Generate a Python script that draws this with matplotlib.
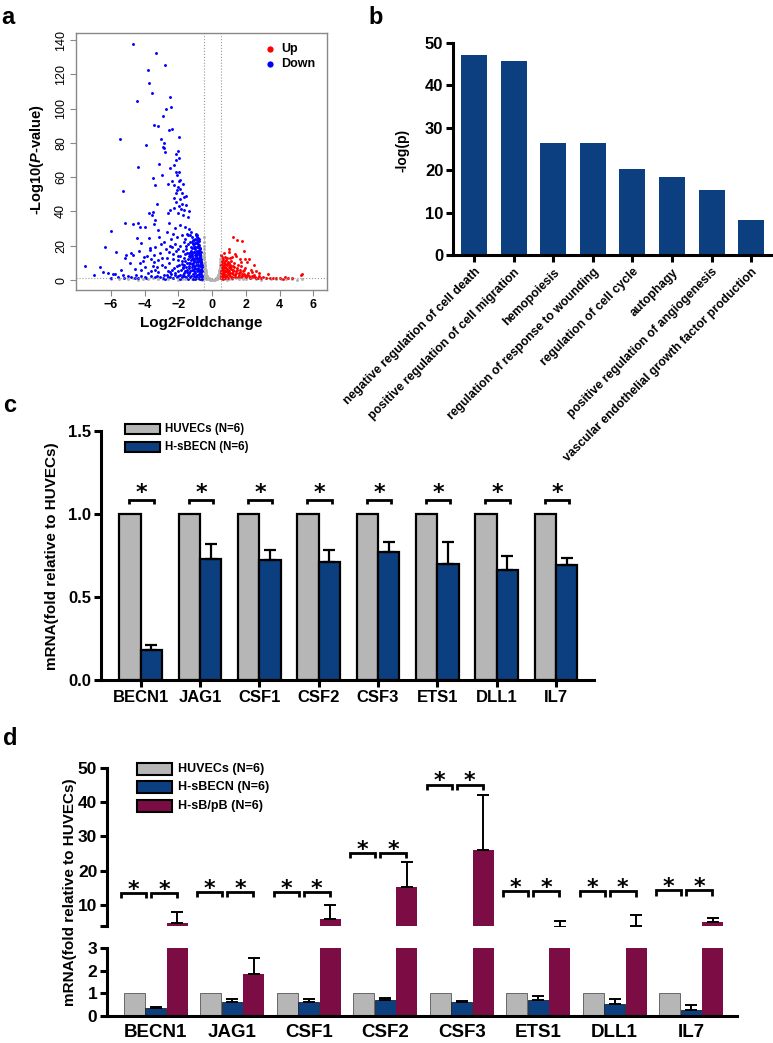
import matplotlib
matplotlib.use('Agg')
import matplotlib.pyplot as plt
from matplotlib.patches import Rectangle
from matplotlib.lines import Line2D
from matplotlib import font_manager as fm
import numpy as np

# ---------------- data ----------------
# panel a: volcano points (log2 fold change, -log10 p)
blue_x = [-4.67,-3.33,-2.82,-3.79,-3.77,-3.55,-4.46,-2.50,-2.44,-2.72,-2.90,-3.47,-3.24,-2.54,-2.37,-5.44,-3.02,-1.97,
          -3.90,-2.86,-2.92,-2.84,-2.78,-2.03,-2.17,-1.99,-2.13,-3.15,-2.29,-4.38,-2.49,-2.15,-1.99,-2.07,-2.96,-3.53,
          -3.41,-5.31,-3.27,-2.62,-2.39,-1.95,-1.88,-2.25,-2.05,-1.76,-2.09,-1.89,-2.13,-1.82,-1.70,-1.54,-1.93,-2.25,
          -2.13,-1.78,-1.54,-1.97,-2.29,-1.85,-1.66,-1.40,-2.05,-1.73,-1.46,-2.49,-2.64,-3.77,-3.53,-3.57,-3.41,-5.15,
          -4.69,-4.40,-4.00,-4.26,-5.98,-3.47,-3.21,-2.59,-2.19,-1.89,-1.60,-1.40,-1.26,-1.46,-1.20,-1.11,-1.34,-1.01,
          -0.91,-1.20,-1.05,-0.87,-1.30,-0.95,-0.81,-6.33,-5.68,-5.13,-4.79,-4.46,-4.22,-3.67,-3.37,-3.18,-2.88,-2.59,
          -2.39,-3.47,-4.07,-3.77,-2.68,-7.51,-6.63,-6.48,-6.18,-5.74,-5.30,-5.15,-4.70,-4.26,-3.67,-3.22,-2.78,-2.34,
          -3.96,-3.37,-2.49,-2.04,-1.75,
          -0.65,-0.70,-0.66,-0.72,-0.68,-0.75,-0.70,-0.78,-0.74,-0.82,-0.88,-0.80,-0.95,-1.00,-0.90,-0.85,-0.90,-0.80,
          -0.95,-1.10,-1.00,-1.05,-1.15,-1.10,-1.20,-1.25,-1.30,-1.20,-1.35,-1.40,-1.45,-1.50,-1.55,-1.60,-1.50,-1.65,
          -1.70,-1.60,-1.75,-1.85,-1.90,-2.00,-2.10,-2.20,-2.30,-2.45,-2.55,-2.70,-2.85,-3.00,-3.10,-3.30,-3.50,-3.60,
          -3.80,-4.00,-4.20,-4.50,-4.80,-5.00,-4.40,-3.90,-3.40,-2.90,-2.60,-2.30,-2.00,-1.80,-1.55,-1.30,-1.15,
          -0.62,-0.64,-0.67,-0.63,-0.69,-0.66,-0.71,-0.73,-0.76,-0.79,-0.84,-0.86,-0.92,-0.98,-0.77,-0.83,-0.87,-0.92,
          -0.96,-1.02,-1.08,-1.12,-1.18,-1.22,-1.28,-1.33,-1.38,-1.42,-1.48,-1.52,-1.58,-1.62,-1.68,-1.72,-1.78,-1.82,
          -1.88,-1.95,-2.02,-2.08,-2.15,-2.22,-2.28,-2.35,-2.42,-2.50,-2.62,-2.75,-2.95,-3.05,-3.25,-3.45,-3.65,-3.85,
          -4.10,-4.35,-4.60,-4.90,-5.40,-5.60,-6.00,-5.90,-7.00,
          -0.61,-0.63,-0.65,-0.68,-0.61,-0.64,-0.69,-0.72,-0.67,-0.75,-0.81,-0.78,-0.85,-0.90,-0.62,-0.66,-0.70,-0.74,
          -0.77,-0.80,-0.83,-0.89,-0.93,-0.72,-0.76,-0.79,-0.82,-0.86,-0.89,-0.93,-0.97,-1.00,-1.04,-1.06,-0.84,-0.88,
          -0.91,-0.94,-0.97,-1.00,-1.03,-1.07,-1.10,-1.14,-0.98,-1.02,-1.05,-1.09,-1.13,-1.16,-1.20,-1.24,-1.10,-1.14,
          -1.18,-1.22,-1.26,-1.31,-1.36,-1.28,-1.32,-1.36,-1.40,-1.44,-1.50,-1.55,-1.60,-1.65,-1.70,-1.75,-1.80,-1.90,
          -2.00,-2.10,-2.20,-2.40,-2.50,-2.70,-3.10,-3.20,-3.60,-4.20,-4.60,-5.20,-2.80,-1.90,-1.45,-1.00,-0.70]
blue_y = [137.6,132.5,125.3,122.6,115.1,109.2,104.2,106.5,101.1,99.7,95.4,90.2,89.6,87.3,88.0,82.4,82.2,83.4,
          78.5,79.7,77.7,76.8,74.6,75.2,73.3,71.1,70.0,67.6,67.0,65.7,65.5,63.1,63.1,61.4,61.2,59.3,
          55.4,52.1,44.3,56.2,57.9,57.9,58.3,55.4,54.4,56.0,52.5,52.9,50.5,50.5,48.6,49.2,47.2,47.6,
          45.7,44.3,43.9,43.1,41.8,41.4,40.8,40.4,38.9,37.9,36.9,40.8,38.9,39.2,39.8,37.7,35.0,33.4,
          32.7,33.0,31.1,30.7,28.6,32.7,29.2,33.4,30.1,32.1,31.1,29.5,28.2,26.2,25.3,23.3,22.3,21.4,
          19.4,18.5,16.5,15.6,14.6,13.6,12.6,19.4,16.5,14.6,15.6,24.3,21.4,18.5,19.4,25.3,22.3,16.5,
          19.4,14.6,13.6,24.3,28.2,8.2,7.8,4.9,3.9,3.3,2.9,12.6,14.6,9.7,17.5,11.7,7.8,15.0,
          7.8,5.8,4.9,11.7,6.8,
          2.0,4.0,6.0,8.0,10.0,12.0,14.0,16.0,18.0,20.0,22.0,24.0,26.0,24.0,17.0,9.0,5.0,3.0,
          1.5,2.5,7.0,11.0,13.0,20.0,22.0,17.0,10.0,6.0,4.0,8.0,12.0,16.0,20.0,24.0,27.0,13.0,
          9.0,5.0,3.0,6.0,14.0,18.0,8.0,4.0,12.0,24.0,10.0,13.0,3.0,9.0,16.0,2.5,8.0,12.0,
          4.0,2.0,6.0,3.0,1.5,2.2,1.2,1.0,1.5,1.2,2.0,1.4,2.5,1.5,1.8,1.6,0.8,
          1.0,3.5,5.0,7.5,9.0,11.0,13.0,15.0,17.0,19.0,21.0,23.0,25.0,27.0,6.0,7.0,11.0,13.0,
          15.0,18.0,5.0,9.0,15.0,12.0,19.0,26.0,14.0,21.0,6.0,10.0,18.0,15.0,22.0,17.0,11.0,26.0,
          20.0,9.0,14.0,25.0,17.0,21.0,7.0,27.0,3.5,20.0,5.5,18.0,13.0,21.0,7.5,10.5,5.0,14.0,
          11.0,17.0,6.5,10.0,6.0,1.8,1.2,3.6,2.8,
          0.5,2.5,4.5,6.5,8.5,10.5,12.5,14.5,16.5,18.5,20.5,22.5,24.5,26.5,5.5,9.5,11.5,13.5,
          15.5,17.5,19.5,21.5,23.5,1.5,3.5,5.5,8.5,10.5,12.5,14.5,16.5,19.5,21.5,23.5,1.2,3.2,
          6.5,8.5,10.5,12.5,14.5,16.5,18.5,21.0,2.2,4.2,6.2,8.2,10.2,12.2,14.2,16.2,1.2,3.4,
          7.4,9.4,11.4,13.4,15.5,2.4,5.4,7.2,9.8,3.2,4.6,7.8,11.2,2.4,4.2,7.5,9.5,2.8,
          5.2,1.5,3.0,6.0,1.8,3.2,2.0,4.5,2.6,2.4,1.1,0.9,0.8,0.6,0.7,0.6,0.4]

red_x = [1.26,1.48,1.79,1.87,1.01,0.71,0.51,0.77,0.97,1.07,1.36,5.31,5.25,4.32,
         0.52,0.55,0.53,0.56,0.54,0.58,0.60,0.62,0.65,0.63,0.68,0.66,0.70,0.72,0.75,0.73,0.78,0.80,
         0.82,0.85,0.88,0.90,0.93,0.87,0.95,0.98,1.02,1.05,1.08,1.12,1.15,1.18,1.22,1.25,1.30,1.35,
         1.40,1.45,1.50,1.55,1.60,1.65,1.70,1.75,1.80,1.90,1.95,2.00,2.10,2.20,2.30,2.40,2.50,2.60,
         2.75,2.90,3.00,3.20,3.40,3.60,3.80,4.00,4.20,4.50,4.70,1.62,1.42,1.18,2.05,2.20,1.95,1.72,
         2.45,2.60,2.35,3.30,2.80,0.60,
         0.51,0.53,0.55,0.57,0.59,0.61,0.64,0.67,0.69,0.71,0.74,0.76,0.79,0.81,0.84,0.86,0.89,0.92,
         0.94,0.97,1.00,1.03,1.06,1.10,1.14,1.17,1.21,1.26,1.31,1.37,1.43,1.49,1.56,1.63,1.70,1.78,
         1.86,1.96,2.08,2.22,2.36,2.55,2.70]
red_y = [25.3,23.3,22.9,17.1,17.9,15.9,14.6,13.6,16.5,12.6,15.1,3.3,3.0,1.6,
         1.0,3.0,5.0,7.0,9.0,11.0,2.0,4.0,6.0,8.0,10.0,12.0,1.5,3.5,5.5,7.5,9.5,11.5,
         2.5,4.5,6.5,8.5,10.5,13.0,1.2,3.0,5.0,7.0,9.0,11.0,2.0,4.0,6.0,8.0,10.0,3.0,
         5.0,7.0,9.0,1.5,4.0,6.0,8.0,2.5,5.0,3.5,7.0,1.8,4.0,2.5,6.0,1.5,3.0,1.2,
         2.2,1.0,1.6,1.3,0.9,1.4,1.0,1.2,0.8,1.1,1.4,12.5,14.0,13.5,10.5,12.0,12.0,10.5,
         9.0,5.0,4.5,3.5,4.0,13.5,
         2.2,4.2,6.2,8.2,10.2,0.8,2.8,4.8,6.8,8.8,10.8,1.2,3.2,5.2,7.2,9.2,1.8,3.8,
         5.8,7.8,9.8,2.3,4.3,6.3,8.3,1.2,3.3,5.3,7.3,1.8,3.8,5.8,2.8,4.8,1.5,3.6,
         5.6,2.2,3.2,1.4,2.4,1.8,1.0]

grey_x = [-0.50,-0.48,-0.47,-0.45,-0.42,-0.40,-0.37,-0.33,-0.30,-0.25,-0.20,-0.15,-0.10,-0.05,-0.49,-0.46,-0.44,
          -0.41,-0.39,-0.36,-0.34,-0.31,-0.28,-0.22,-0.18,-0.45,-0.48,-0.43,-0.47,-0.40,-0.35,-0.30,-0.49,-0.50,
          -0.46,-0.50,-0.49,-0.58,-0.62,-0.68,-0.72,-0.60,-0.66,
          0.48,0.46,0.44,0.41,0.38,0.35,0.32,0.28,0.24,0.20,0.15,0.10,0.05,0.47,0.45,0.42,0.39,0.36,
          0.33,0.30,0.45,0.48,0.43,0.38,0.49,0.50,
          -6.0,-5.5,-5.0,-4.7,-4.4,-4.1,-3.8,-3.5,-3.2,-2.9,-2.6,-2.3,-2.0,-1.8,-1.6,-1.4,-1.2,-1.0,-0.9,
          -0.8,-0.7,-0.6,0.6,0.7,0.8,0.9,1.0,1.2,1.4,1.6,1.8,2.0,2.3,2.6,2.9,3.2,3.5,3.8,4.1,4.4,4.7,5.0,5.3,
          -0.50,-0.49,-0.48,-0.47,-0.45,-0.44,-0.43,-0.42,-0.41,-0.39,-0.38,-0.37,-0.36,-0.32,-0.27,-0.24,-0.12,
          -0.50,0.50,0.49,0.48,0.47,0.46,0.44,0.42,0.41,0.40,0.37,0.34,0.31,0.26,0.18,0.49]
grey_y = [20.0,16.0,12.0,9.0,7.0,5.0,3.5,2.5,1.8,1.2,0.8,0.5,0.3,0.1,18.0,14.0,10.5,
          8.0,6.0,4.5,3.0,2.2,1.5,1.0,0.6,4.0,6.0,3.0,2.0,1.5,1.0,0.7,10.0,13.0,
          7.5,25.0,22.0,10.0,6.0,3.0,8.0,14.0,1.5,
          12.0,9.0,7.0,5.0,3.8,2.8,2.0,1.4,1.0,0.7,0.45,0.25,0.1,10.5,8.0,6.0,4.5,3.2,
          2.4,1.7,3.0,4.5,2.0,1.2,7.0,14.0,
          0.3,0.6,0.4,0.9,0.2,0.7,0.5,1.0,0.3,0.8,0.5,1.1,0.2,0.7,0.4,1.0,0.6,0.3,0.9,
          0.5,1.1,0.2,0.4,1.0,0.6,0.2,0.8,0.5,1.1,0.3,0.7,0.4,1.0,0.6,0.2,0.9,0.5,0.3,0.8,0.4,0.6,0.2,0.5,
          8.0,5.0,3.0,1.0,1.8,5.5,8.5,4.0,2.5,1.2,3.2,2.0,0.8,1.2,0.5,0.3,0.15,
          16.0,10.0,5.0,2.5,1.0,6.0,4.5,3.0,1.5,2.5,2.0,1.0,0.6,0.4,0.2,8.5]

# panel b: GO terms
go_terms = ["negative regulation of cell death", "positive regulation of cell migration", "hemopoiesis",
            "regulation of response to wounding", "regulation of cell cycle", "autophagy",
            "positive regulation of angiogenesis", "vascular endothelial growth factor production"]
go_logp = [47.1, 45.7, 26.4, 26.4, 20.2, 18.3, 15.4, 8.3]

# panel c
genes = ["BECN1", "JAG1", "CSF1", "CSF2", "CSF3", "ETS1", "DLL1", "IL7"]
c_huvec = [1, 1, 1, 1, 1, 1, 1, 1]
c_sbecn = [0.18, 0.73, 0.72, 0.71, 0.77, 0.70, 0.66, 0.69]
c_sbecn_err = [0.03, 0.09, 0.065, 0.075, 0.06, 0.13, 0.09, 0.045]
c_sig_y = [1.084] * 8

# panel d
d_huvec = [1, 1, 1, 1, 1, 1, 1, 1]
d_sbecn = [0.34, 0.60, 0.62, 0.72, 0.60, 0.70, 0.55, 0.28]
d_sbecn_err = [0.07, 0.13, 0.13, 0.09, 0.05, 0.17, 0.22, 0.22]
d_sbpb = [4.8, 1.85, 5.9, 15.1, 25.9, 3.5, 3.85, 5.1]
d_sbpb_err = [3.0, 0.73, 4.0, 7.3, 16.1, 1.9, 3.05, 1.0]
d_sig_y = [13.4, 13.7, 13.7, 25.1, 45.0, 13.9, 13.9, 14.2]

# ---------------- style ----------------
names = {f.name for f in fm.fontManager.ttflist}
BASE = 'Liberation Sans' if 'Liberation Sans' in names else 'DejaVu Sans'
plt.rcParams['font.family'] = [BASE, 'DejaVu Sans']
plt.rcParams['font.weight'] = 'bold'
plt.rcParams['mathtext.fontset'] = 'custom'
plt.rcParams['mathtext.it'] = BASE + ':italic:bold'
plt.rcParams['mathtext.rm'] = BASE + ':bold'

GREY = '#b6b6b6'
BLUE = '#0b3f80'
PINK = '#7b0d44'

W, H, DPI = 773, 1043, 100
fig = plt.figure(figsize=(W / DPI, H / DPI), dpi=DPI)


def add_ax(l, t, r, b, z=0):
    ax = fig.add_axes([l / W, 1 - b / H, (r - l) / W, (b - t) / H])
    ax.patch.set_alpha(0)
    ax.set_zorder(z)
    return ax


def fx(x):
    return x / W


def fy(y):
    return 1 - y / H


def ftext(x, y, s, **kw):
    fig.text(fx(x), fy(y), s, **kw)


def fbox(l, t, r, b, fc, lw=1.5):
    fig.add_artist(Rectangle((fx(l), fy(b)), (r - l) / W, (b - t) / H, facecolor=fc,
                             edgecolor='black', linewidth=lw, transform=fig.transFigure))


# ---------------- panel a ----------------
axA = add_ax(75.5, 33, 327, 290)
axA.plot(grey_x, grey_y, 'o', ms=2.1, mew=0, color='#b3b3b3')
axA.plot(blue_x, blue_y, 'o', ms=2.1, mew=0, color='#0000ff')
axA.plot(red_x, red_y, 'o', ms=2.1, mew=0, color='#ff0000')
for v in (-0.5, 0.5):
    axA.axvline(v, ls=':', color='#9a9a9a', lw=0.8)
axA.axhline(1.3, ls=':', color='#9a9a9a', lw=0.8)
axA.set_xlim(-8.1, 6.8)
axA.set_ylim(-5.83, 144.1)
for s in axA.spines.values():
    s.set_color('#888888')
    s.set_linewidth(1.0)
axA.set_xticks([-6, -4, -2, 0, 2, 4, 6])
axA.set_yticks(list(range(0, 141, 20)))
axA.tick_params(direction='out', length=4, width=0.8, color='#888888', labelsize=9)
axA.tick_params(axis='x', pad=2.5)
axA.tick_params(axis='y', pad=2)
for lab in axA.get_yticklabels():
    lab.set_rotation(90)
    lab.set_va('center')
    lab.set_fontweight('normal')
ftext(201, 323, 'Log2Foldchange', fontsize=11, fontweight='bold', ha='center', va='center')
ftext(37, 160, r'-Log10($\mathit{P}$-value)', fontsize=10.5, fontweight='bold', rotation=90,
      ha='center', va='center')
for yy, col, lab in ((49, '#ff0000', 'Up'), (64, '#0000ff', 'Down')):
    fig.add_artist(Line2D([fx(270)], [fy(yy)], marker='o', ms=4.5, mew=0, color=col, ls='',
                          transform=fig.transFigure))
    ftext(281, yy, lab, fontsize=9, fontweight='bold', ha='left', va='center')
ftext(1, 24, 'a', fontsize=17, fontweight='bold', ha='left', va='baseline')

# ---------------- panel b ----------------
axB = add_ax(453, 43, 773, 255, z=5)
xb = np.arange(len(go_terms))
axB.bar(xb, go_logp, width=0.66, color=BLUE, edgecolor='none')
axB.set_xlim(-0.53, 7.55)
axB.set_ylim(0, 50)
axB.spines[['top', 'right']].set_visible(False)
for s in ('left', 'bottom'):
    axB.spines[s].set_linewidth(2.2)
axB.set_yticks([0, 10, 20, 30, 40, 50])
axB.set_xticks(xb)
axB.set_xticklabels(go_terms, rotation=45, ha='right', va='top', rotation_mode='anchor',
                    fontsize=8.8, fontweight='bold')
axB.tick_params(direction='out', length=5, width=2.2)
axB.tick_params(axis='y', labelsize=12, pad=2)
axB.tick_params(axis='x', pad=3)
ftext(402, 150, '-log(p)', fontsize=10, fontweight='bold', rotation=90, ha='center', va='center')
ftext(368, 24, 'b', fontsize=17, fontweight='bold', ha='left', va='baseline')

# ---------------- panel c ----------------
axC = add_ax(101, 431, 594, 680)
xc = np.arange(len(genes))
wc = 0.36
axC.bar(xc - wc / 2, c_huvec, wc, color=GREY, edgecolor='black', linewidth=1.6)
axC.bar(xc + wc / 2, c_sbecn, wc, color=BLUE, edgecolor='black', linewidth=1.6,
        yerr=[np.zeros(len(genes)), c_sbecn_err],
        error_kw=dict(ecolor='black', elinewidth=1.6, capsize=4, capthick=1.6))
for i, yy in enumerate(c_sig_y):
    x0, x1 = i - 0.19, i + 0.22
    axC.plot([x0, x0, x1, x1], [yy - 0.025, yy, yy, yy - 0.025], color='black', lw=2.0,
             solid_joinstyle='miter', solid_capstyle='butt')
    axC.text((x0 + x1) / 2, yy + 0.004, '*', family='DejaVu Sans', fontsize=16, fontweight='bold',
             ha='center', va='baseline')
axC.set_xlim(-0.67, 7.64)
axC.set_ylim(0, 1.5)
axC.spines[['top', 'right']].set_visible(False)
for s in ('left', 'bottom'):
    axC.spines[s].set_linewidth(2.2)
axC.set_yticks([0, 0.5, 1.0, 1.5])
axC.set_yticklabels(['0.0', '0.5', '1.0', '1.5'])
axC.set_xticks(xc)
axC.set_xticklabels(genes)
axC.tick_params(direction='out', length=5, width=2.2, labelsize=12)
axC.tick_params(axis='x', pad=2)
axC.tick_params(axis='y', pad=2)
ftext(52, 556, 'mRNA(fold relative to HUVECs)', fontsize=11, fontweight='bold', rotation=90,
      ha='center', va='center')
fbox(125, 424, 160, 434, GREY)
fbox(125, 442, 160, 452, BLUE)
ftext(165, 429, 'HUVECs (N=6)', fontsize=8.3, fontweight='bold', ha='left', va='center')
ftext(165, 447, 'H-sBECN (N=6)', fontsize=8.3, fontweight='bold', ha='left', va='center')
ftext(3, 412, 'c', fontsize=17, fontweight='bold', ha='left', va='baseline')

# ---------------- panel d ----------------
axDu = add_ax(107, 768, 737, 926)
axDl = add_ax(107, 948, 737, 1016)
xd = np.arange(len(genes))
wd, off = 0.275, 0.28
for ax in (axDu, axDl):
    ax.bar(xd - off, d_huvec, wd, color=GREY, edgecolor='#555555', linewidth=0.6)
    ax.bar(xd, d_sbecn, wd, color=BLUE, edgecolor='#222222', linewidth=0.6,
           yerr=[np.zeros(len(genes)), d_sbecn_err],
           error_kw=dict(ecolor='black', elinewidth=1.4, capsize=4, capthick=1.4))
    ax.bar(xd + off, d_sbpb, wd, color=PINK, edgecolor='none',
           yerr=[np.zeros(len(genes)), d_sbpb_err],
           error_kw=dict(ecolor='black', elinewidth=1.4, capsize=4, capthick=1.4))
    ax.set_xlim(-0.64, 7.6)
    ax.spines[['top', 'right']].set_visible(False)
    ax.spines['left'].set_linewidth(2.2)
    ax.tick_params(axis='y', direction='out', length=5, width=2.2, labelsize=12.5, pad=2)
axDu.set_ylim(3.8, 50)
axDu.set_yticks([10, 20, 30, 40, 50])
axDu.set_yticks([3.8], minor=True)
axDu.tick_params(axis='y', which='minor', direction='out', length=5, width=2.2)
axDu.spines['bottom'].set_visible(False)
axDu.set_xticks([])
axDl.set_ylim(0, 3)
axDl.set_yticks([0, 1, 2, 3])
axDl.spines['bottom'].set_linewidth(2.2)
axDl.set_xticks(xd)
axDl.set_xticklabels(genes, fontsize=13.5, fontweight='bold')
axDl.tick_params(axis='x', length=0, pad=6)
for i, yy in enumerate(d_sig_y):
    for x0, x1 in ((i - 0.46, i - 0.13), (i - 0.065, i + 0.275)):
        axDu.plot([x0, x0, x1, x1], [yy - 1.5, yy, yy, yy - 1.5], color='black', lw=2.0,
                  solid_joinstyle='miter', solid_capstyle='butt')
        axDu.text((x0 + x1) / 2, yy - 0.7, '*', family='DejaVu Sans', fontsize=16,
                  fontweight='bold', ha='center', va='baseline')
ftext(70, 892, 'mRNA(fold relative to HUVECs)', fontsize=11, fontweight='bold', rotation=90,
      ha='center', va='center')
fbox(137, 763, 172, 775, GREY)
fbox(137, 781, 172, 793, BLUE)
fbox(137, 800, 172, 812, PINK)
ftext(178, 769, 'HUVECs (N=6)', fontsize=9, fontweight='bold', ha='left', va='center')
ftext(178, 787, 'H-sBECN (N=6)', fontsize=9, fontweight='bold', ha='left', va='center')
ftext(178, 806, 'H-sB/pB (N=6)', fontsize=9, fontweight='bold', ha='left', va='center')
ftext(3, 745, 'd', fontsize=17, fontweight='bold', ha='left', va='baseline')

fig.savefig('out.png', dpi=DPI, facecolor='white')
